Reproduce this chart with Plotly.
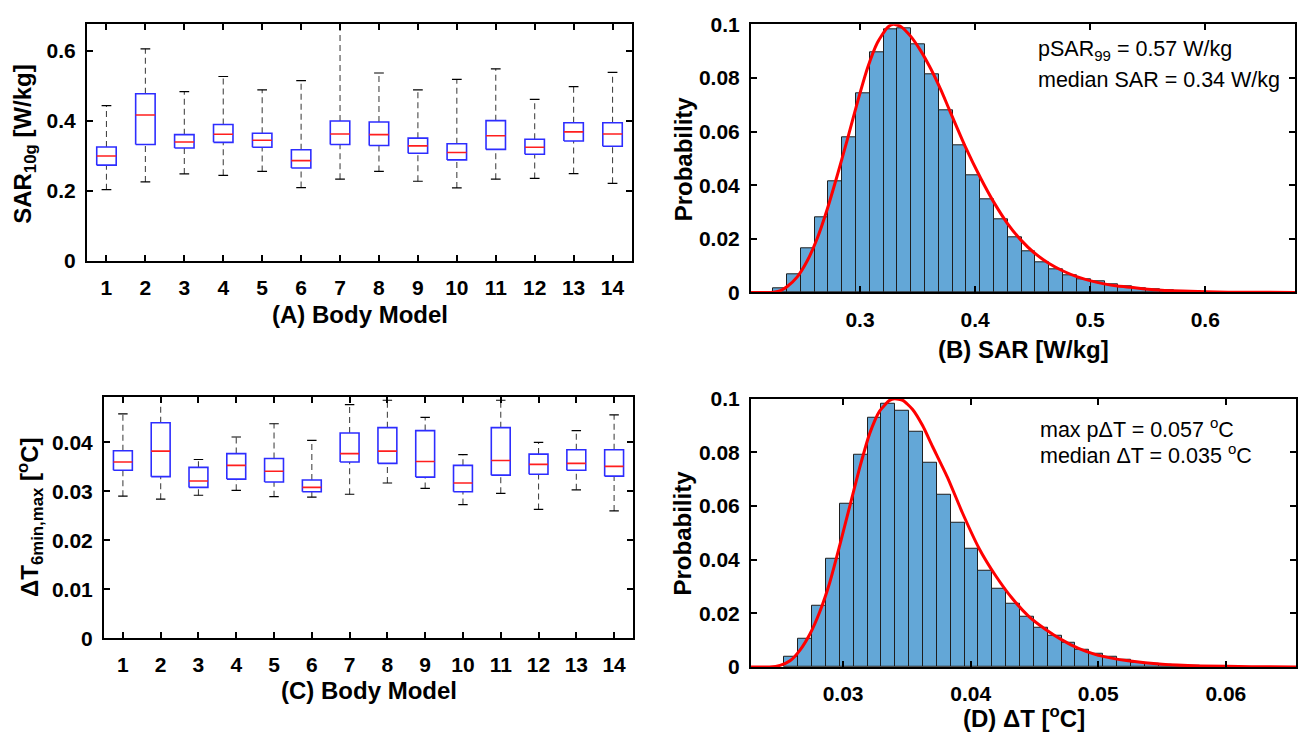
import plotly.graph_objects as go

W, H = 1298, 750

# ---------------- data ----------------
models = list(range(1, 15))

# (A) SAR10g box statistics [W/kg]
sar_lo = [0.204, 0.226, 0.249, 0.245, 0.256, 0.210, 0.234, 0.256, 0.228, 0.209, 0.234, 0.236, 0.250, 0.222]
sar_q1 = [0.274, 0.333, 0.323, 0.339, 0.325, 0.266, 0.333, 0.330, 0.308, 0.289, 0.319, 0.305, 0.343, 0.328]
sar_med = [0.300, 0.417, 0.340, 0.362, 0.345, 0.287, 0.363, 0.361, 0.329, 0.310, 0.358, 0.325, 0.369, 0.363]
sar_q3 = [0.326, 0.478, 0.361, 0.390, 0.365, 0.318, 0.400, 0.397, 0.351, 0.335, 0.401, 0.348, 0.395, 0.395]
sar_hi = [0.444, 0.606, 0.484, 0.527, 0.489, 0.515, 0.690, 0.537, 0.489, 0.519, 0.549, 0.462, 0.498, 0.539]

# (C) delta T box statistics [degC]
dt_lo = [0.0290, 0.0284, 0.0292, 0.0302, 0.0289, 0.0288, 0.0294, 0.0317, 0.0306, 0.0273, 0.0296, 0.0263, 0.0303, 0.0260]
dt_q1 = [0.0343, 0.0330, 0.0308, 0.0325, 0.0319, 0.0299, 0.0360, 0.0357, 0.0329, 0.0299, 0.0333, 0.0335, 0.0343, 0.0331]
dt_med = [0.0360, 0.0382, 0.0321, 0.0353, 0.0341, 0.0308, 0.0377, 0.0382, 0.0361, 0.0317, 0.0363, 0.0355, 0.0357, 0.0351]
dt_q3 = [0.0383, 0.0440, 0.0349, 0.0377, 0.0367, 0.0323, 0.0419, 0.0430, 0.0424, 0.0353, 0.0430, 0.0376, 0.0385, 0.0385]
dt_hi = [0.0458, 0.0500, 0.0365, 0.0411, 0.0438, 0.0404, 0.0477, 0.0486, 0.0451, 0.0375, 0.0486, 0.0400, 0.0424, 0.0456]

# (B) SAR histogram
sar_bin_start = 0.2245
sar_bin_width = 0.012
sar_prob = [0.0016, 0.0069, 0.0163, 0.0281, 0.0416, 0.0578, 0.0741, 0.0895, 0.0983, 0.0984,
            0.0925, 0.0812, 0.0678, 0.0548, 0.0437, 0.0347, 0.0271, 0.0205, 0.0153, 0.0111,
            0.0085, 0.0065, 0.0049, 0.0040, 0.0031, 0.0023, 0.0015, 0.0010, 0.0007, 0.0005,
            0.0003, 0.0002, 0.0001, 0.0001]
sar_fit_x = [0.2053, 0.2223, 0.231, 0.2368, 0.2455, 0.2542, 0.2629, 0.2716, 0.2803, 0.289,
             0.2977, 0.3064, 0.3151, 0.3238, 0.329, 0.3354, 0.3441, 0.3528, 0.3614, 0.3701,
             0.3774, 0.3919, 0.405, 0.4165, 0.4282, 0.4397, 0.4513, 0.4643, 0.4774, 0.489,
             0.5006, 0.5122, 0.5238, 0.5354, 0.555, 0.58, 0.62, 0.678]
sar_fit_y = [0.0, 0.0, 0.0007, 0.0022, 0.0058, 0.0118, 0.0202, 0.0311, 0.0437, 0.057,
             0.0708, 0.0835, 0.0931, 0.0988, 0.1, 0.0992, 0.0955, 0.0901, 0.0835, 0.0757,
             0.0684, 0.054, 0.0425, 0.0335, 0.0257, 0.0196, 0.0148, 0.0108, 0.0078, 0.0058,
             0.0043, 0.0032, 0.0024, 0.0019, 0.0010, 0.0005, 0.0001, 0.0]

# (D) delta T histogram
dt_bin_start = 0.0254
dt_bin_width = 0.001086
dt_prob = [0.0037, 0.0107, 0.0229, 0.0402, 0.0607, 0.0792, 0.0929, 0.0981, 0.0954, 0.0876,
           0.0761, 0.0641, 0.0536, 0.0440, 0.0359, 0.0292, 0.0234, 0.0186, 0.0146, 0.0115,
           0.0089, 0.0066, 0.0048, 0.0038, 0.0027, 0.0017, 0.0011, 0.0007, 0.0005, 0.0003,
           0.0002, 0.0001]
dt_fit_x = [0.02278, 0.02423, 0.02506, 0.02584, 0.02662, 0.0274, 0.02818, 0.02896, 0.02974, 0.03052,
            0.0313, 0.03208, 0.03286, 0.03364, 0.03403, 0.03468, 0.03545, 0.03623, 0.03701, 0.03818,
            0.03935, 0.04066, 0.04196, 0.04325, 0.04455, 0.04585, 0.04715, 0.04845, 0.04975, 0.05104,
            0.05234, 0.055, 0.058, 0.062, 0.0655]
dt_fit_y = [0.0, 0.0, 0.0006, 0.0023, 0.0063, 0.0123, 0.0207, 0.0316, 0.0454, 0.0599,
            0.0743, 0.087, 0.0954, 0.0994, 0.1, 0.0994, 0.096, 0.09, 0.0822, 0.0707,
            0.0575, 0.0442, 0.034, 0.0256, 0.0189, 0.0141, 0.0101, 0.0069, 0.0047, 0.0033,
            0.0023, 0.0010, 0.0004, 0.0001, 0.0]

# ---------------- styles ----------------
FONT = "Liberation Sans, Arial, sans-serif"
BOX_W = 0.5
BOX_COLOR = "rgb(45,45,255)"
MED_COLOR = "rgb(255,30,30)"
WHISK_COLOR = "rgb(70,70,70)"
BAR_COLOR = "rgb(99,167,215)"
FIT_COLOR = "rgb(255,0,0)"

fig = go.Figure()


def add_boxes(xa, ya, lo, q1, med, q3, hi):
    half = BOX_W / 2
    cap = BOX_W / 4
    wx, wy, cx, cy, bx, by, mx, my = [], [], [], [], [], [], [], []
    for i, m in enumerate(models):
        wx += [m, m, None, m, m, None]
        wy += [q3[i], hi[i], None, lo[i], q1[i], None]
        cx += [m - cap, m + cap, None, m - cap, m + cap, None]
        cy += [hi[i], hi[i], None, lo[i], lo[i], None]
        bx += [m - half, m + half, m + half, m - half, m - half, None]
        by += [q1[i], q1[i], q3[i], q3[i], q1[i], None]
        mx += [m - half, m + half, None]
        my += [med[i], med[i], None]
    common = dict(mode="lines", xaxis=xa, yaxis=ya, showlegend=False, hoverinfo="skip")
    fig.add_trace(go.Scatter(x=wx, y=wy, line=dict(color=WHISK_COLOR, width=1.1, dash="6px,4px"), **common))
    fig.add_trace(go.Scatter(x=cx, y=cy, line=dict(color="black", width=1.2), **common))
    fig.add_trace(go.Scatter(x=bx, y=by, line=dict(color=BOX_COLOR, width=1.6), **common))
    fig.add_trace(go.Scatter(x=mx, y=my, line=dict(color=MED_COLOR, width=1.6), **common))


def add_hist(xa, ya, start, width, prob, fx, fy):
    centers = [start + (i + 0.5) * width for i in range(len(prob))]
    fig.add_trace(go.Bar(x=centers, y=prob, width=width, xaxis=xa, yaxis=ya, showlegend=False,
                         marker=dict(color=BAR_COLOR, line=dict(color="rgb(30,30,30)", width=1))))
    fig.add_trace(go.Scatter(x=fx, y=fy, mode="lines", xaxis=xa, yaxis=ya, showlegend=False,
                             line=dict(color=FIT_COLOR, width=3, shape="spline", smoothing=0.6)))


add_boxes("x", "y", sar_lo, sar_q1, sar_med, sar_q3, sar_hi)
add_hist("x2", "y2", sar_bin_start, sar_bin_width, sar_prob, sar_fit_x, sar_fit_y)
add_boxes("x3", "y3", dt_lo, dt_q1, dt_med, dt_q3, dt_hi)
add_hist("x4", "y4", dt_bin_start, dt_bin_width, dt_prob, dt_fit_x, dt_fit_y)


def dx(a, b):
    return [a / W, b / W]


def dy(top, bottom):
    return [1 - bottom / H, 1 - top / H]


tickfont = dict(family=FONT, size=21, color="black", weight="bold")
axis_common = dict(showline=True, linecolor="black", linewidth=2, mirror="ticks",
                   ticks="inside", ticklen=6, tickwidth=1.5, tickcolor="black",
                   showgrid=False, zeroline=False, tickfont=tickfont)

fig.update_layout(
    width=W, height=H, margin=dict(l=0, r=0, t=0, b=0),
    paper_bgcolor="white", plot_bgcolor="white", bargap=0, showlegend=False,
    xaxis=dict(domain=dx(87, 632), anchor="y", range=[0.5, 14.5], tickvals=models,
               ticklabelstandoff=7, **axis_common),
    yaxis=dict(domain=dy(12, 257), anchor="x", range=[0, 0.678], tickvals=[0, 0.2, 0.4, 0.6],
               ticktext=["0", "0.2", "0.4", "0.6"], ticklabelstandoff=5, **axis_common),
    xaxis2=dict(domain=dx(751, 1295), anchor="y2", range=[0.2053, 0.678],
                tickvals=[0.3, 0.4, 0.5, 0.6], ticktext=["0.3", "0.4", "0.5", "0.6"],
                ticklabelstandoff=7, **axis_common),
    yaxis2=dict(domain=dy(12.7, 289.3), anchor="x2", range=[0, 0.1],
                tickvals=[0, 0.02, 0.04, 0.06, 0.08, 0.1],
                ticktext=["0", "0.02", "0.04", "0.06", "0.08", "0.1"], ticklabelstandoff=5, **axis_common),
    xaxis3=dict(domain=dx(104, 633), anchor="y3", range=[0.5, 14.5], tickvals=models,
                ticklabelstandoff=7, **axis_common),
    yaxis3=dict(domain=dy(397, 646), anchor="x3", range=[0, 0.0493],
                tickvals=[0, 0.01, 0.02, 0.03, 0.04],
                ticktext=["0", "0.01", "0.02", "0.03", "0.04"], ticklabelstandoff=5, **axis_common),
    xaxis4=dict(domain=dx(751, 1296), anchor="y4", range=[0.02278, 0.0655],
                tickvals=[0.03, 0.04, 0.05, 0.06], ticktext=["0.03", "0.04", "0.05", "0.06"],
                ticklabelstandoff=7, **axis_common),
    yaxis4=dict(domain=dy(399, 675.7), anchor="x4", range=[0, 0.1],
                tickvals=[0, 0.02, 0.04, 0.06, 0.08, 0.1],
                ticktext=["0", "0.02", "0.04", "0.06", "0.08", "0.1"], ticklabelstandoff=5, **axis_common),
)

title_font = dict(family=FONT, size=24, color="black", weight="bold")
note_font = dict(family=FONT, size=21.5, color="black")


def ann(text, px, py, font, angle=0, xanchor="center"):
    fig.add_annotation(text=text, x=px / W, y=1 - py / H, xref="paper", yref="paper",
                       showarrow=False, font=font, textangle=angle, xanchor=xanchor, yanchor="middle")


# axis titles
ann("(A) Body Model", 359.5, 312, title_font)
ann("(B) SAR [W/kg]", 1023, 348, title_font)
ann("(C) Body Model", 368.5, 700, title_font)
ann("(D) ΔT [<sup>o</sup>C]", 1023.5, 727, title_font)
ann("SAR<sub>10g</sub> [W/kg]", 25, 136, title_font, angle=-90)
ann("Probability", 683, 151, title_font, angle=-90)
ann("ΔT<sub>6min,max</sub> [<sup>o</sup>C]", 30, 521, title_font, angle=-90)
ann("Probability", 683, 537, title_font, angle=-90)

# text notes
ann("pSAR<sub>99</sub> = 0.57 W/kg", 1036, 40, note_font, xanchor="left")
ann("median SAR = 0.34 W/kg", 1036, 70, note_font, xanchor="left")
ann("max pΔT = 0.057 <sup>o</sup>C", 1038, 429, note_font, xanchor="left")
ann("median ΔT = 0.035 <sup>o</sup>C", 1038, 456, note_font, xanchor="left")

fig.write_html("out.html", config={"displayModeBar": False},
               post_script="document.body.style.margin='0';document.body.style.overflow='hidden';")
